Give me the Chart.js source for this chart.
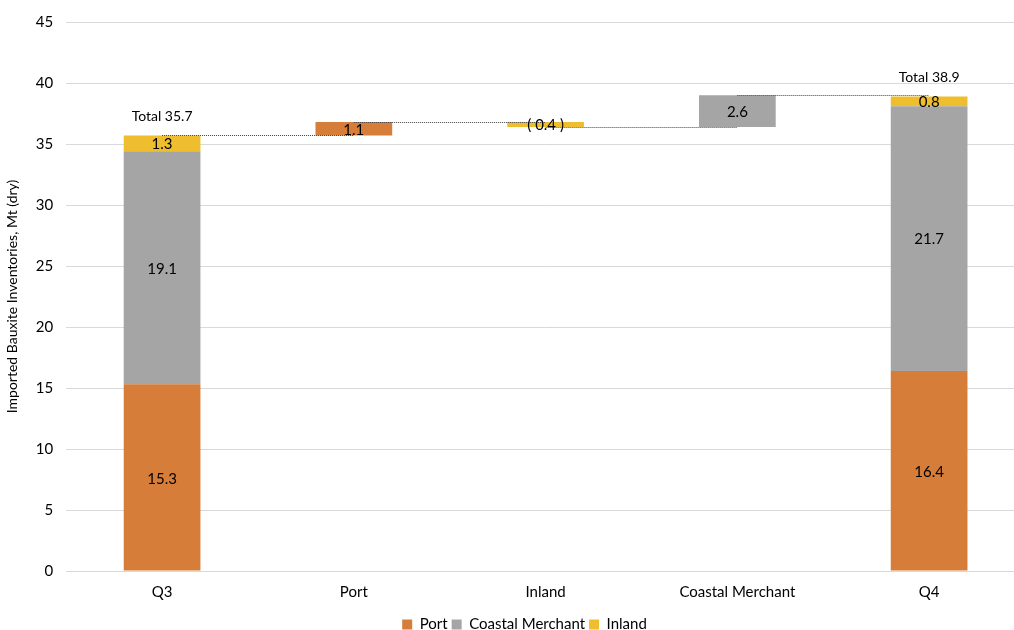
<!DOCTYPE html>
<html>
<head>
<meta charset="utf-8">
<script src="https://cdn.jsdelivr.net/npm/chart.js@4"></script>
<style>
  html, body { margin: 0; padding: 0; background: #fff; overflow: hidden; }
  /* the reference plot runs a little past the right edge of the picture */
  #wrap { width: 1025px; height: 630px; }
</style>
</head>
<body>
<div id="wrap"><canvas id="chart"></canvas></div>
<script>
// categories and values
const categories = ["Q3", "Port", "Inland", "Coastal Merchant", "Q4"];
const isTotal = [true, false, false, false, true];
const portValues = [15.3, 1.1, null, null, 16.4];
const coastalValues = [19.1, null, null, 2.6, 21.7];
const inlandValues = [1.3, null, -0.4, null, 0.8];
const totalLabels = [35.7, null, null, null, 38.9];
const yTicks = [0, 5, 10, 15, 20, 25, 30, 35, 40, 45];

// build floating bar ranges [start, end]
let portData = [], coastalData = [], inlandData = [];
let levels = []; // level at end of each column (for connectors)
let running = 0;
for (let i = 0; i < categories.length; i++) {
  let series = [[portValues, portData], [coastalValues, coastalData], [inlandValues, inlandData]];
  let base = isTotal[i] ? 0 : running;
  for (let s of series) {
    let v = s[0][i];
    if (v === null) { s[1].push(null); continue; }
    s[1].push([base, base + v]);
    base = base + v;
  }
  running = isTotal[i] ? totalLabels[i] : base;
  levels.push(running);
}

function fmt(v) {
  return v < 0 ? "( " + Math.abs(v).toFixed(1) + " )" : v.toFixed(1);
}

const labelPlugin = {
  id: "waterfallLabels",
  afterDatasetsDraw: (chart) => {
    const { ctx } = chart;
    const x = chart.scales.x, y = chart.scales.y;
    ctx.save();
    // dotted connectors
    ctx.strokeStyle = "#404040";
    ctx.lineWidth = 1;
    ctx.setLineDash([1, 1]);
    for (let i = 0; i < categories.length - 1; i++) {
      let py = Math.round(y.getPixelForValue(levels[i])) + 0.5;
      ctx.beginPath();
      ctx.moveTo(x.getPixelForValue(i), py);
      ctx.lineTo(x.getPixelForValue(i + 1), py);
      ctx.stroke();
    }
    ctx.setLineDash([]);
    // value labels
    ctx.fillStyle = "#000";
    ctx.font = "15px Lato";
    ctx.textAlign = "center";
    ctx.textBaseline = "middle";
    let raw = [portValues, coastalValues, inlandValues];
    chart.data.datasets.forEach((ds, d) => {
      ds.data.forEach((r, i) => {
        if (!r) return;
        let mid = (r[0] + r[1]) / 2;
        ctx.fillText(fmt(raw[d][i]), x.getPixelForValue(i), y.getPixelForValue(mid) + 1);
      });
    });
    // totals
    ctx.font = "14px Lato";
    ctx.textBaseline = "bottom";
    totalLabels.forEach((t, i) => {
      if (t === null) return;
      ctx.fillText("Total " + t.toFixed(1), x.getPixelForValue(i), y.getPixelForValue(t) - 12);
    });
    ctx.restore();
  },
};

Chart.defaults.font.family = "Lato";
Chart.defaults.color = "#000";

new Chart(document.getElementById("chart"), {
  type: "bar",
  data: {
    labels: categories,
    datasets: [
      { label: "Port", data: portData, backgroundColor: "#D67D3A" },
      { label: "Coastal Merchant", data: coastalData, backgroundColor: "#A5A5A5" },
      { label: "Inland", data: inlandData, backgroundColor: "#EFBE2E" },
    ],
  },
  options: {
    responsive: true,
    maintainAspectRatio: false,
    animation: false,
    layout: { padding: { left: 2, right: -22, top: -3, bottom: -12 } },
    datasets: { bar: { categoryPercentage: 0.4, barPercentage: 1 } },
    scales: {
      x: {
        stacked: true,
        grid: { display: false },
        border: { color: "#d9d9d9" },
        ticks: { font: { size: 15 }, padding: 4 },
        afterFit: (s) => { s.height = 42; },
      },
      y: {
        stacked: false,
        min: 0,
        max: 45,
        afterBuildTicks: (axis) => { axis.ticks = yTicks.map((v) => ({ value: v })); },
        grid: { color: "#d9d9d9", drawTicks: false },
        border: { display: false },
        ticks: { font: { size: 15 }, padding: 13 },
        title: { display: true, text: "Imported Bauxite Inventories, Mt (dry)", font: { size: 14 }, padding: 2 },
      },
    },
    plugins: {
      legend: {
        position: "bottom",
        labels: { boxWidth: 10, boxHeight: 10, font: { size: 15 }, padding: 4 },
      },
      tooltip: { enabled: false },
    },
  },
  plugins: [labelPlugin],
});
</script>
</body>
</html>
